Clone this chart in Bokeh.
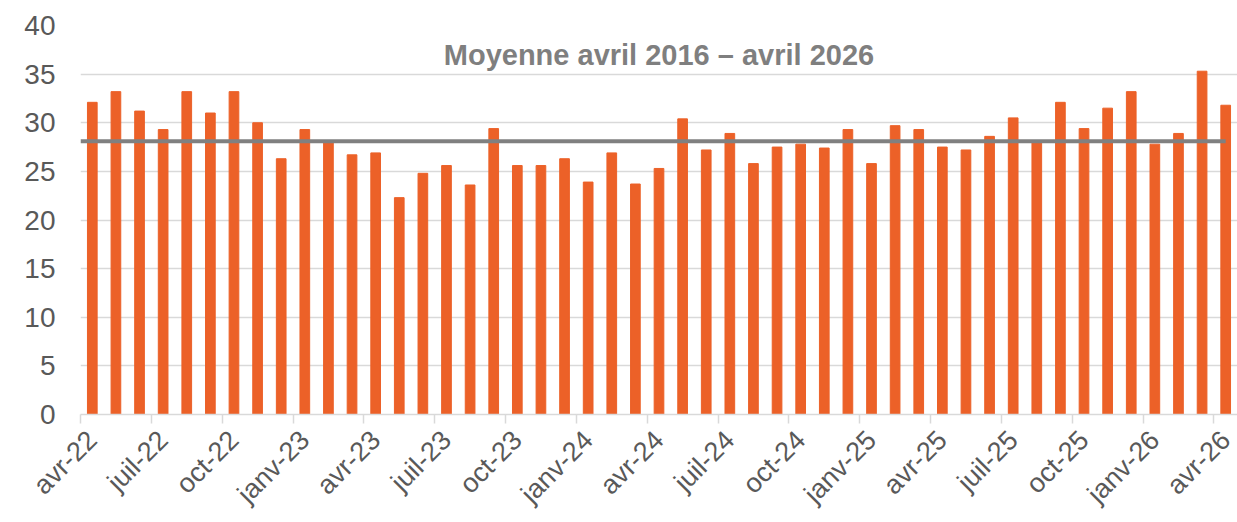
from bokeh.plotting import figure
from bokeh.models import FixedTicker, Label
from bokeh.embed import file_html
from bokeh.resources import INLINE
import math

months = [
    "avr-22", "mai-22", "juin-22", "juil-22", "août-22", "sept-22", "oct-22", "nov-22", "déc-22",
    "janv-23", "févr-23", "mars-23", "avr-23", "mai-23", "juin-23", "juil-23", "août-23", "sept-23",
    "oct-23", "nov-23", "déc-23", "janv-24", "févr-24", "mars-24", "avr-24", "mai-24", "juin-24",
    "juil-24", "août-24", "sept-24", "oct-24", "nov-24", "déc-24", "janv-25", "févr-25", "mars-25",
    "avr-25", "mai-25", "juin-25", "juil-25", "août-25", "sept-25", "oct-25", "nov-25", "déc-25",
    "janv-26", "févr-26", "mars-26", "avr-26",
]
values = [
    32.1, 33.2, 31.2, 29.3, 33.2, 31.0, 33.2, 30.0, 26.3,
    29.3, 28.0, 26.7, 26.9, 22.3, 24.8, 25.6, 23.6, 29.4,
    25.6, 25.6, 26.3, 23.9, 26.9, 23.7, 25.3, 30.4, 27.2,
    28.9, 25.8, 27.5, 27.8, 27.4, 29.3, 25.8, 29.7, 29.3,
    27.5, 27.2, 28.6, 30.5, 28.0, 32.1, 29.4, 31.5, 33.2,
    27.8, 28.9, 35.3, 31.8,
]
average = 28.1
average_label = "Moyenne avril 2016 – avril 2026"
y_ticks = [0, 5, 10, 15, 20, 25, 30, 35, 40]
label_step = 3

FONT = "Liberation Sans"
x = list(range(len(values)))

p = figure(
    width=1237, height=522,
    x_range=(-0.5, len(values) - 0.5), y_range=(y_ticks[0], y_ticks[-1]),
    output_backend="svg", toolbar_location=None,
    min_border_left=80, min_border_right=0, min_border_top=25, min_border_bottom=106,
)
p.outline_line_color = None
p.background_fill_color = "white"
p.border_fill_color = "white"

p.vbar(x=x, top=values, width=0.41, color="#EC6128")

p.line(x=[p.x_range.start, x[-1]], y=[average, average], line_width=4, line_color="#808080")

p.add_layout(Label(
    x=(p.x_range.start + p.x_range.end) / 2, y=37.0, text=average_label,
    text_align="center", text_baseline="alphabetic",
    text_font=FONT, text_font_size="29px", text_font_style="bold", text_color="#7F7F7F",
))

# y axis
p.yaxis.ticker = FixedTicker(ticks=y_ticks)
p.yaxis.axis_line_color = None
p.yaxis.major_tick_line_color = None
p.yaxis.minor_tick_line_color = None
p.yaxis.major_label_standoff = 19
p.yaxis.major_label_text_font = FONT
p.yaxis.major_label_text_font_size = "28px"
p.yaxis.major_label_text_color = "#595959"

p.ygrid.ticker = FixedTicker(ticks=y_ticks)
p.ygrid.grid_line_color = "#D9D9D9"
p.ygrid.grid_line_width = 1.5
p.xgrid.grid_line_color = None

# x axis
major = x[::label_step]
p.xaxis.ticker = FixedTicker(ticks=major, minor_ticks=[i - 0.5 for i in major])
p.xaxis.major_label_overrides = {i: months[i] for i in major}
p.xaxis.major_label_orientation = math.pi / 4
p.xaxis.axis_line_color = "#D9D9D9"
p.xaxis.axis_line_width = 1.5
p.xaxis.major_tick_line_color = None
p.xaxis.major_tick_out = 0
p.xaxis.major_tick_in = 0
p.xaxis.minor_tick_line_color = "#D9D9D9"
p.xaxis.minor_tick_line_width = 1.5
p.xaxis.minor_tick_out = 9
p.xaxis.minor_tick_in = 0
p.xaxis.major_label_standoff = 12
p.xaxis.major_label_text_font = FONT
p.xaxis.major_label_text_font_size = "27px"
p.xaxis.major_label_text_color = "#595959"

open("out.html", "w").write(file_html(p, INLINE))
